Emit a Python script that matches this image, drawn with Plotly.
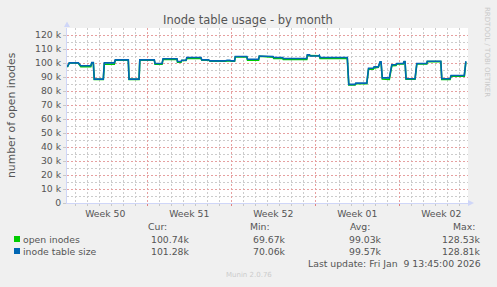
import plotly.graph_objects as go

# ---- data ----
times = [
    "2025-12-08 08:00", "2025-12-08 12:00", "2025-12-09 06:00", "2025-12-09 11:00",
    "2025-12-10 07:00", "2025-12-10 09:00", "2025-12-10 12:00", "2025-12-10 14:00",
    "2025-12-11 08:00", "2025-12-11 10:00", "2025-12-12 06:00", "2025-12-12 08:00",
    "2025-12-13 10:00", "2025-12-13 11:30", "2025-12-14 07:30", "2025-12-14 09:00",
    "2025-12-15 14:00", "2025-12-15 15:30", "2025-12-16 05:30", "2025-12-16 07:30",
    "2025-12-17 11:30", "2025-12-17 12:30", "2025-12-17 19:30", "2025-12-17 21:00",
    "2025-12-18 05:30", "2025-12-18 07:00", "2025-12-19 11:30", "2025-12-19 13:00",
    "2025-12-20 02:30", "2025-12-20 05:30", "2025-12-21 11:30", "2025-12-21 15:30",
    "2025-12-21 21:30", "2025-12-21 23:30", "2025-12-22 06:30", "2025-12-22 08:00",
    "2025-12-23 07:00", "2025-12-23 08:30", "2025-12-24 06:30", "2025-12-24 08:00",
    "2025-12-25 11:30", "2025-12-25 13:00", "2025-12-26 07:00", "2025-12-26 08:00",
    "2025-12-28 07:00", "2025-12-28 08:00", "2025-12-28 12:30", "2025-12-28 14:00",
    "2025-12-29 06:30", "2025-12-29 08:00", "2025-12-29 09:30", "2025-12-31 16:00",
    "2025-12-31 19:00", "2026-01-01 07:30", "2026-01-01 09:00", "2026-01-02 07:00",
    "2026-01-02 10:30", "2026-01-02 20:00", "2026-01-02 21:30", "2026-01-03 06:00",
    "2026-01-03 09:30", "2026-01-03 11:30", "2026-01-03 14:00", "2026-01-04 04:00",
    "2026-01-04 09:00", "2026-01-04 17:30", "2026-01-04 19:00", "2026-01-05 08:00",
    "2026-01-05 09:30", "2026-01-05 11:30", "2026-01-05 13:30", "2026-01-06 07:30",
    "2026-01-06 11:00", "2026-01-07 07:00", "2026-01-07 08:00", "2026-01-08 11:00",
    "2026-01-08 13:00", "2026-01-09 05:30", "2026-01-09 07:30", "2026-01-10 10:00",
    "2026-01-10 13:00", "2026-01-10 13:30",
]

inode_table_size = [
    97.2, 100.1, 100.1, 98.0, 98.0, 100.4, 100.4, 88.5,
    88.5, 100.1, 100.1, 102.2, 102.2, 88.5, 88.5, 102.2,
    102.2, 99.6, 99.6, 103.0, 103.0, 101.1, 101.1, 102.0,
    102.0, 103.9, 103.9, 102.2, 102.2, 101.5, 101.5, 101.9,
    101.9, 101.5, 101.5, 104.6, 104.6, 102.7, 102.7, 105.0,
    104.6, 103.9, 103.9, 103.2, 103.2, 105.8, 105.8, 105.0,
    105.0, 105.5, 103.9, 103.9, 84.7, 84.7, 85.6, 85.6,
    96.3, 96.3, 97.2, 97.2, 100.8, 100.8, 89.4, 89.4,
    98.7, 98.7, 99.6, 99.6, 101.1, 101.1, 88.7, 88.7,
    99.6, 99.6, 101.3, 101.3, 88.7, 88.7, 91.1, 91.1,
    100.8, 101.28,
]

open_inodes = [
    97.0, 100.0, 100.0, 97.3, 97.3, 100.2, 100.2, 88.3,
    88.3, 99.1, 99.1, 102.0, 102.0, 88.3, 88.3, 102.0,
    102.0, 99.2, 99.2, 102.6, 102.6, 100.5, 100.5, 101.8,
    101.8, 103.2, 103.2, 102.0, 102.0, 101.3, 101.3, 101.6,
    101.6, 101.3, 101.3, 104.4, 104.4, 102.0, 102.0, 104.8,
    104.2, 103.2, 103.2, 102.6, 102.6, 105.3, 105.3, 104.8,
    104.8, 105.2, 103.2, 103.2, 84.3, 84.3, 85.2, 85.2,
    95.6, 95.6, 96.5, 97.0, 100.5, 100.5, 88.5, 88.2,
    98.0, 98.2, 99.4, 99.4, 100.8, 100.8, 88.4, 88.4,
    99.3, 99.3, 101.0, 101.0, 88.3, 88.3, 90.6, 90.6,
    100.5, 100.74,
]

y_ticks = [0, 10, 20, 30, 40, 50, 60, 70, 80, 90, 100, 110, 120]
y_tick_text = ["0"] + [f"{v} k" for v in y_ticks[1:]]

legend_names = ["open inodes", "inode table size"]
legend_colors = ["#00cc00", "#0066b3"]
cur_vals = ["100.74k", "101.28k"]
min_vals = ["69.67k", "70.06k"]
avg_vals = ["99.03k", "99.57k"]
max_vals = ["128.53k", "128.81k"]

# ---- geometry ----
W, H = 497, 287
L, R, T, B = 67, 468, 28, 203
FONT = "DejaVu Sans"
TXT = "#555555"
DASH = "2px,2px"


def px(x):
    return (x - L) / (R - L)


def py(y):
    return (B - y) / (B - T)


fig = go.Figure()
fig.add_trace(go.Scatter(x=times, y=[v * 1000 for v in open_inodes], mode="lines",
                         line=dict(color=legend_colors[0], width=1.6),
                         name=legend_names[0], showlegend=False))
fig.add_trace(go.Scatter(x=times, y=[v * 1000 for v in inode_table_size], mode="lines",
                         line=dict(color=legend_colors[1], width=1.6),
                         name=legend_names[1], showlegend=False))

fig.update_layout(
    width=W, height=H,
    margin=dict(l=L, r=W - R, t=T, b=H - B, pad=0),
    paper_bgcolor="#f0f0f0", plot_bgcolor="#ffffff",
    font=dict(family=FONT, size=9.3, color=TXT),
    showlegend=False,
)

fig.update_xaxes(
    type="date",
    range=["2025-12-08 07:24", "2026-01-10 17:24"],
    tick0="2025-12-15", dtick=7 * 86400000,
    tickformat="Week %V", ticklabelmode="period",
    showgrid=True, gridcolor="#e6a0a0", griddash=DASH, gridwidth=1,
    ticks="outside", ticklen=2, tickcolor="#e08080",
    showline=True, linecolor="#cfd6f8", linewidth=1,
    tickfont=dict(size=9.3, color=TXT),
    minor=dict(dtick=86400000, tick0="2025-12-15", showgrid=True,
               gridcolor="#cccccc", griddash=DASH, gridwidth=1,
               ticks="outside", ticklen=2, tickcolor="#c8c8c8"),
    zeroline=False, fixedrange=True,
)

fig.update_yaxes(
    range=[0, 125000],
    tickvals=[v * 1000 for v in y_ticks], ticktext=y_tick_text,
    showgrid=True, gridcolor="#e6a0a0", griddash=DASH, gridwidth=1,
    ticks="outside", ticklen=3, tickcolor="#c8c8c8",
    showline=True, linecolor="#cfd6f8", linewidth=1,
    tickfont=dict(size=9.3, color=TXT),
    minor=dict(dtick=5000, tick0=0, showgrid=True, gridcolor="#cccccc",
               griddash=DASH, gridwidth=1),
    zeroline=False, fixedrange=True,
)

shapes = [
    # axis arrows
    dict(type="path", xref="paper", yref="paper",
         path=f"M {px(64)} {py(27)} L {px(67)} {py(21.5)} L {px(70)} {py(27)} Z",
         fillcolor="#cfd6f8", line=dict(width=0)),
    dict(type="path", xref="paper", yref="paper",
         path=f"M {px(468)} {py(200)} L {px(474)} {py(203)} L {px(468)} {py(206)} Z",
         fillcolor="#cfd6f8", line=dict(width=0)),
]
for i, c in enumerate(legend_colors):
    yc = 239 + 12 * i
    shapes.append(dict(type="rect", xref="paper", yref="paper",
                       x0=px(14), x1=px(20), y0=py(yc + 3), y1=py(yc - 3),
                       fillcolor=c, line=dict(width=0)))
fig.update_layout(shapes=shapes)

ann = []


def text(x, y, s, anchor="left", size=9.3, color=TXT, angle=0):
    ann.append(dict(x=px(x), y=py(y), xref="paper", yref="paper", text=s,
                    showarrow=False, xanchor=anchor, yanchor="middle",
                    textangle=angle, font=dict(family=FONT, size=size, color=color)))


text(248, 20, "Inode table usage - by month", "center", size=11.5)
text(11, 115, "number of open inodes", "center", size=10.8, angle=-90)
text(487, 52, "RRDTOOL / TOBI OETIKER", "center", size=7, color="#c8c8c8", angle=90)

text(157, 226, "Cur:", "center")
text(260, 226, "Min:", "center")
text(359.5, 226, "Avg:", "center")
text(477, 226, "Max:", "right")
for i, name in enumerate(legend_names):
    yc = 239 + 12 * i
    text(20.5, yc, name, "left")
    text(192, yc, cur_vals[i], "right")
    text(288, yc, min_vals[i], "right")
    text(384, yc, avg_vals[i], "right")
    text(483, yc, max_vals[i], "right")
text(483, 263, "Last update: Fri Jan \u00a09 13:45:00 2026", "right")
text(248.7, 275, "Munin 2.0.76", "center", size=7, color="#cccccc")

fig.update_layout(annotations=ann)

fig.write_html("out.html")
